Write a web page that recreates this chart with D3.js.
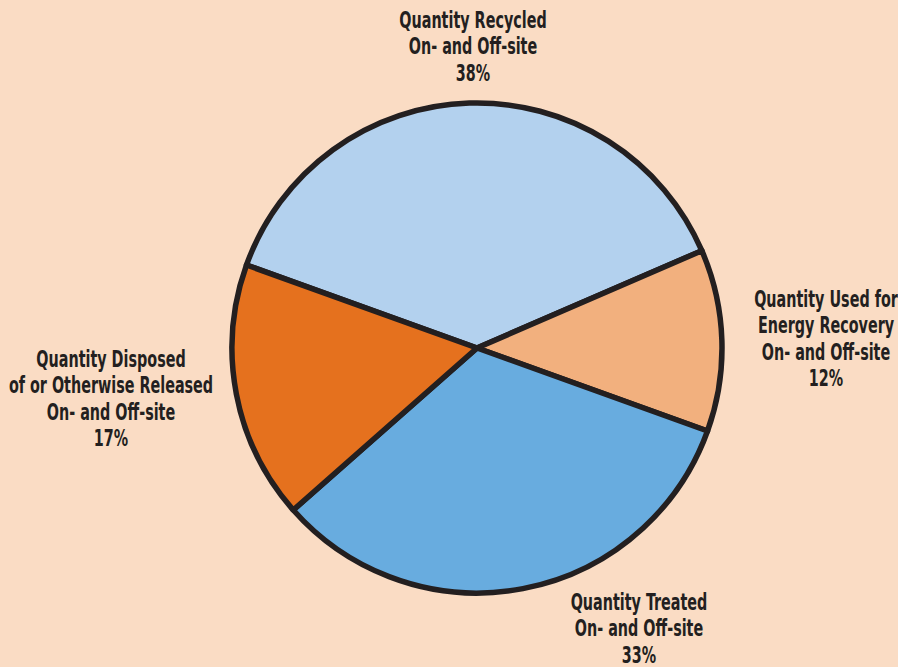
<!DOCTYPE html>
<html lang="en">
    <head>
        <meta charset="utf-8">
        <title>Pie</title>
        <script type="text/javascript" src="https://d3js.org/d3.v7.min.js"></script>
        <style type="text/css">
            body { margin: 0; background: #FADCC4; }
            text { font-family: "DejaVu Sans Condensed", "Liberation Sans Narrow", sans-serif; font-stretch: condensed; font-weight: bold; font-size: 21px; fill: #231F20; }
        </style>
    </head>
    <body>
        <script type="text/javascript">

    var w = 898;
    var h = 667;

    // slices, clockwise from the top-left boundary
    var categories = ["Quantity Recycled", "Quantity Used for Energy Recovery", "Quantity Treated", "Quantity Disposed of or Otherwise Released"];
    var values = [38, 12, 33, 17];
    var colors = ["#B3D1EE", "#F2B07E", "#68ACDF", "#E5711E"];

    // label lines for each slice
    var labels = [
        ["Quantity Recycled", "On- and Off-site", "38%"],
        ["Quantity Used for", "Energy Recovery", "On- and Off-site", "12%"],
        ["Quantity Treated", "On- and Off-site", "33%"],
        ["Quantity Disposed", "of or Otherwise Released", "On- and Off-site", "17%"]
    ];
    var labelPos = [[473, 20], [826, 299], [639, 602], [111, 359]];

    var cx = 477, cy = 348, r = 245;

    var svg = d3.select("body")
                .append("svg")
                .attr("width", w)
                .attr("height", h);

    svg.append("rect").attr("width", w).attr("height", h).style("fill", "#FADCC4");

    var pie = d3.pie()
                .sort(null)
                .startAngle(-70.2 * Math.PI / 180)
                .endAngle((360 - 70.2) * Math.PI / 180);

    var arc = d3.arc().innerRadius(0).outerRadius(r);

    var g = svg.append("g").attr("transform", "translate(" + cx + "," + cy + ")");

    g.selectAll("path")
        .data(pie(values))
        .enter()
        .append("path")
        .attr("d", arc)
        .style("fill", function(d, i) { return colors[i]; })
        .style("stroke", "#231F20")
        .style("stroke-width", 5.5)
        .style("stroke-linejoin", "round");

    // labels (narrowed and stretched to look like a condensed face)
    labels.forEach(function(lines, i) {
        var t = svg.append("text")
            .attr("text-anchor", "middle")
            .attr("transform", "translate(" + labelPos[i][0] + "," + labelPos[i][1] + ") scale(0.76,1.1)");
        t.selectAll("tspan")
            .data(lines)
            .enter()
            .append("tspan")
            .attr("x", 0)
            .attr("y", function(d, j) { return j * 26.4 / 1.1; })
            .attr("dy", "0.35em")
            .text(function(d) { return d; });
    });

        </script>
    </body>
</html>
